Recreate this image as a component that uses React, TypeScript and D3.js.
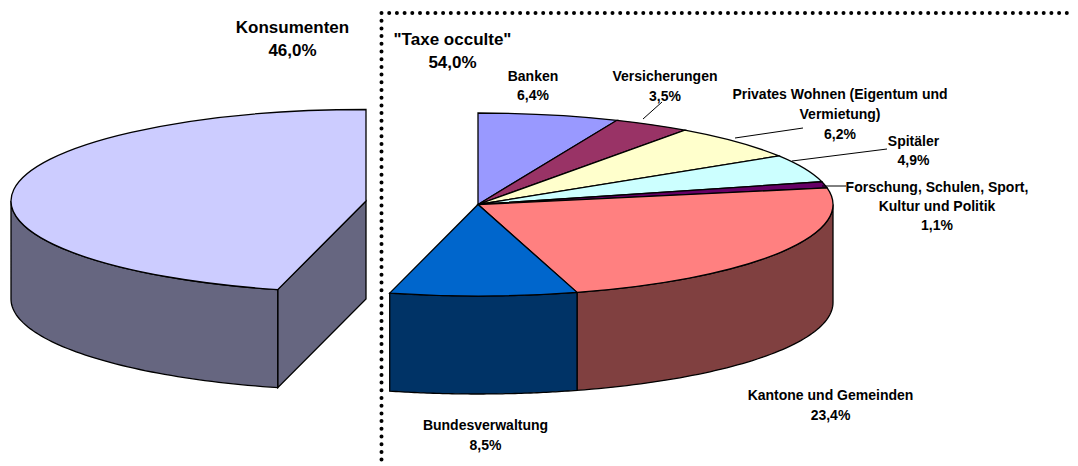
import React from 'react';
import * as d3 from 'd3';

const categories = ['Banken', 'Versicherungen', 'Privates Wohnen', 'Spitäler', 'Forschung', 'Kantone und Gemeinden', 'Bundesverwaltung', 'Konsumenten'];
const shares = [6.4, 3.5, 6.2, 4.9, 1.1, 23.4, 8.5, 46.0];
const topColors = ['#9999ff', '#993366', '#ffffcc', '#ccffff', '#660066', '#ff8080', '#0066cc', '#ccccff'];
const sideColors = ['#4d4d80', '#4d1a33', '#808066', '#668080', '#330033', '#804040', '#003366', '#666680'];

const width = 1078;
const height = 466;
const rx = 355;
const ry = 91.5;
const depth = 98;
const rightCenter = { x: 478, y: 204.5 };
const leftCenter = { x: 366, y: 201 };
const fontFamily = '"Liberation Sans", Arial, sans-serif';

const labels = [
  { lines: ['Konsumenten', '46,0%'], x: 292.5, y: 33, size: 17, gap: 22.5 },
  { lines: ['"Taxe occulte"', '54,0%'], x: 452.5, y: 45, size: 17, gap: 23 },
  { lines: ['Banken', '6,4%'], x: 533, y: 81, size: 14, gap: 19 },
  { lines: ['Versicherungen', '3,5%'], x: 665, y: 81, size: 14, gap: 20 },
  { lines: ['Privates Wohnen (Eigentum und', 'Vermietung)', '6,2%'], x: 840, y: 99, size: 14, gap: 20 },
  { lines: ['Spitäler', '4,9%'], x: 913.5, y: 146, size: 14, gap: 19 },
  { lines: ['Forschung, Schulen, Sport,', 'Kultur und Politik', '1,1%'], x: 937, y: 192, size: 14, gap: 19 },
  { lines: ['Kantone und Gemeinden', '23,4%'], x: 830.5, y: 400, size: 14, gap: 20 },
  { lines: ['Bundesverwaltung', '8,5%'], x: 485.5, y: 430, size: 14, gap: 20 },
];

const leaders = [
  [[643, 119], [662, 102]],
  [[735, 138], [803, 128]],
  [[792, 161], [887, 149]],
  [[822, 186], [846, 186]],
];

const slices = d3.pie<number>().sort(null).startAngle(0).endAngle(2 * Math.PI)(shares);
const arc = d3.arc<d3.PieArcDatum<number>>().innerRadius(0).outerRadius(rx);
const line = d3.line();

type Center = { x: number; y: number };

// rim point of the flattened disc
const rim = (c: Center, a: number, dy = 0): [number, number] => [
  c.x + rx * Math.sin(a),
  c.y - ry * Math.cos(a) + dy,
];

// outer wall, only the part of the slice facing the viewer
const wall = (c: Center, a0: number, a1: number) => {
  const from = Math.max(a0, Math.PI / 2);
  const to = Math.min(a1, (3 * Math.PI) / 2);
  if (to <= from) return null;
  const angles = d3.range(0, 61).map(i => from + ((to - from) * i) / 60);
  return (line([...angles.map(a => rim(c, a)), ...angles.reverse().map(a => rim(c, a, depth))]) ?? '') + 'Z';
};

const Slice = ({ i, c }: { i: number; c: Center }) => {
  const s = slices[i];
  const d = wall(c, s.startAngle, s.endAngle);
  return d ? <path d={d} fill={sideColors[i]} stroke="#000" strokeWidth={1.3} /> : null;
};

const Top = ({ i, c }: { i: number; c: Center }) => (
  <path
    d={arc(slices[i]) ?? ''}
    transform={`translate(${c.x},${c.y}) scale(1,${ry / rx})`}
    fill={topColors[i]}
    stroke="#000"
    strokeWidth={1.3}
    vectorEffect="non-scaling-stroke"
  />
);

export default function App() {
  const right = d3.range(0, 7);
  const left = slices[7];
  const corner = rim(leftCenter, left.startAngle);
  const cutFace = line([
    [leftCenter.x, leftCenter.y],
    corner,
    [corner[0], corner[1] + depth],
    [leftCenter.x, leftCenter.y + depth],
  ]) + 'Z';

  return (
    <svg
      width={width}
      height={height}
      viewBox={`0 0 ${width} ${height}`}
      style={{ position: 'absolute', left: 0, top: 0, background: '#fff' }}
    >
      <path d="M381.5,13H1074M381.5,13V464" fill="none" stroke="#000" strokeWidth={4} strokeLinecap="round" strokeDasharray="0 7.7" />

      <path d={cutFace} fill={sideColors[7]} stroke="#000" strokeWidth={1.3} />
      <Slice i={7} c={leftCenter} />
      <Top i={7} c={leftCenter} />

      {right.map(i => <Slice key={i} i={i} c={rightCenter} />)}
      {right.map(i => <Top key={i} i={i} c={rightCenter} />)}

      {leaders.map((l, i) => (
        <path key={i} d={line(l as [number, number][]) ?? ''} stroke="#000" strokeWidth={1} fill="none" />
      ))}

      {labels.map(l => (
        <text key={l.lines[0]} textAnchor="middle" fontFamily={fontFamily} fontWeight="bold" fontSize={l.size} fill="#000">
          {l.lines.map((t, j) => (
            <tspan key={j} x={l.x} y={l.y + j * l.gap}>{t}</tspan>
          ))}
        </text>
      ))}
      <title>{categories.join(', ')}</title>
    </svg>
  );
}
